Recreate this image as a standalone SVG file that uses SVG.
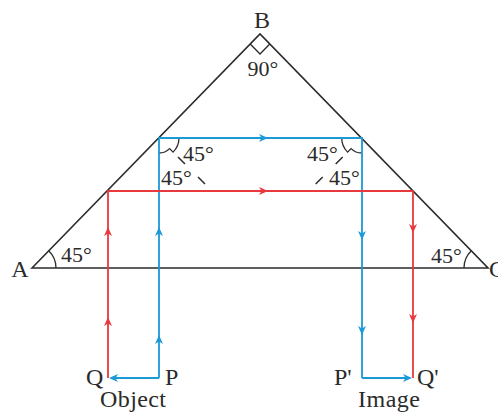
<svg xmlns="http://www.w3.org/2000/svg" xmlns:xlink="http://www.w3.org/1999/xlink" width="498" height="416" viewBox="0 0 498 416">
<style>
.k{fill:none;stroke:#2b2b2b;stroke-width:1.6;stroke-linejoin:miter}
.m{fill:none;stroke:#2b2b2b;stroke-width:1.3}
.d{fill:none;stroke:#2b2b2b;stroke-width:1.5;stroke-dasharray:9.9 18.4}
.b{fill:none;stroke:#1b9ad7;stroke-width:1.8}
.r{fill:none;stroke:#e8393f;stroke-width:1.8}
.bf{fill:#1b9ad7}
.rf{fill:#e8393f}
text{font-family:"Liberation Serif","Times New Roman",serif;fill:#2b2b2b}
.L{font-size:24px}
.n{font-size:22px}
.c{text-anchor:middle}
</style>
<defs>
<path id="ah" d="M0,0 L-9,-4 L-6.5,0 L-9,4 Z"/>
</defs>
<rect width="498" height="416" fill="#fff"/>
<g id="prism">
<path class="k" d="M32,268 L260,34 L488,268 Z"/>
</g>
<g id="angle-marks">
<path class="m" d="M250.2,44 L260,54 L269.8,44"/>
<path class="m" d="M56,268 A24,24 0 0 0 48.7,250.8"/>
<path class="m" d="M464,268 A24,24 0 0 1 471.3,250.8"/>
<path class="m" d="M159,153 A15,15 0 0 0 169.6,148.6 L173.1,152.1 A20,20 0 0 0 179,138"/>
<path class="m" d="M341.7,138 A20,20 0 0 0 347.6,152.1 L351.1,148.6 A15,15 0 0 0 361.7,153"/>
<line class="d" x1="178" y1="157" x2="205" y2="184"/>
<line class="d" x1="342.7" y1="157" x2="315.7" y2="184"/>
</g>
<g id="connectors">
<path class="b" d="M159,378 V138 H362 V378"/>
<path class="r" d="M108,378 V191 H413 V378"/>
<path class="b" d="M159,378 H112"/>
<path class="b" d="M362,378 H408"/>
<use href="#ah" xlink:href="#ah" class="rf" transform="translate(108,227) rotate(-90)"/>
<use href="#ah" xlink:href="#ah" class="rf" transform="translate(108,317) rotate(-90)"/>
<use href="#ah" xlink:href="#ah" class="bf" transform="translate(159,227) rotate(-90)"/>
<use href="#ah" xlink:href="#ah" class="bf" transform="translate(159,335) rotate(-90)"/>
<use href="#ah" xlink:href="#ah" class="bf" transform="translate(268,138)"/>
<use href="#ah" xlink:href="#ah" class="rf" transform="translate(268,191)"/>
<use href="#ah" xlink:href="#ah" class="bf" transform="translate(362,240) rotate(90)"/>
<use href="#ah" xlink:href="#ah" class="bf" transform="translate(362,335) rotate(90)"/>
<use href="#ah" xlink:href="#ah" class="rf" transform="translate(413,233) rotate(90)"/>
<use href="#ah" xlink:href="#ah" class="rf" transform="translate(413,323) rotate(90)"/>
<use href="#ah" xlink:href="#ah" class="bf" transform="translate(109,378) rotate(180)"/>
<use href="#ah" xlink:href="#ah" class="bf" transform="translate(412,378)"/>
</g>
<g id="node-B"><text class="L c" x="262" y="28">B</text></g>
<g id="node-A"><text class="L c" x="20" y="277">A</text></g>
<g id="node-C"><text class="L" x="489" y="277">C</text></g>
<g id="angle-labels">
<text class="n c" x="263" y="76">90°</text>
<text class="n" x="61" y="262">45°</text>
<text class="n" x="431" y="263">45°</text>
<text class="n" x="183" y="161">45°</text>
<text class="n" x="161" y="185">45°</text>
<text class="n" x="307" y="161">45°</text>
<text class="n" x="329" y="185">45°</text>
</g>
<g id="node-Q"><text class="L" x="86" y="385">Q</text></g>
<g id="node-P"><text class="L" x="165" y="385">P</text></g>
<g id="node-P2"><text class="L" x="334" y="385">P'</text></g>
<g id="node-Q2"><text class="L" x="417" y="385">Q'</text></g>
<g id="node-object"><text class="L c" x="133" y="407" textLength="66">Object</text></g>
<g id="node-image"><text class="L c" x="389" y="407" textLength="62">Image</text></g>
</svg>
